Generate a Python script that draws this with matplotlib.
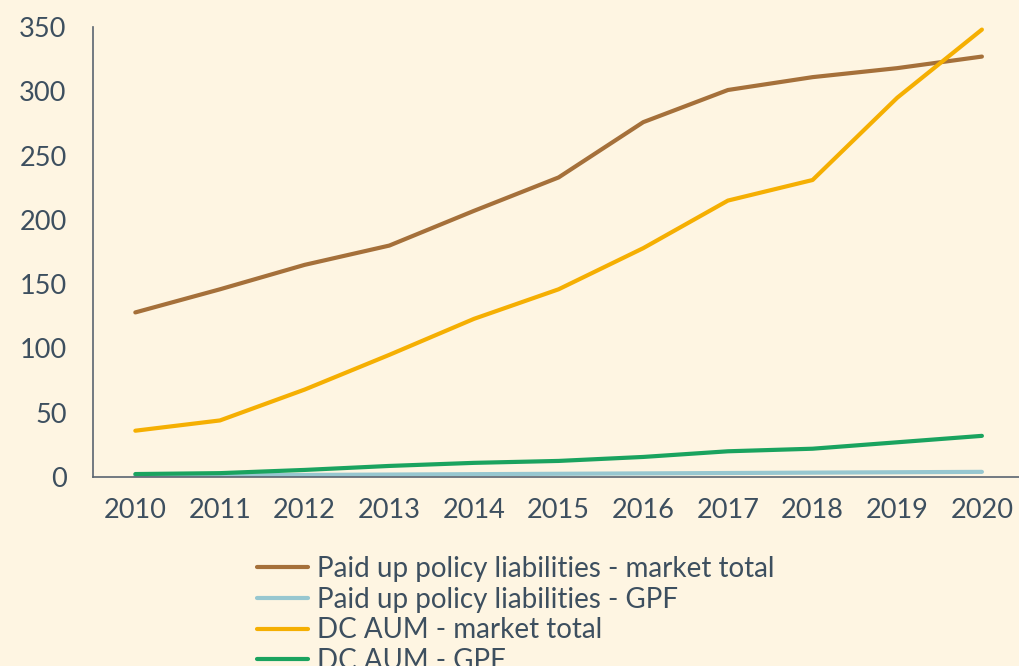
import matplotlib
matplotlib.use("Agg")
import matplotlib.pyplot as plt

years = [2010, 2011, 2012, 2013, 2014, 2015, 2016, 2017, 2018, 2019, 2020]
paid_up_market = [128, 146, 165, 180, 207, 233, 276, 301, 311, 318, 327]
paid_up_gpf = [1.0, 1.3, 1.6, 1.9, 2.2, 2.5, 2.8, 3.1, 3.4, 3.7, 4.0]
dc_market = [36, 44, 68, 95, 123, 146, 178, 215, 231, 295, 348]
dc_gpf = [2.3, 3, 5.5, 8.6, 11, 12.5, 15.6, 20, 22, 27, 32]

labels = ["Paid up policy liabilities - market total",
          "Paid up policy liabilities - GPF",
          "DC AUM - market total",
          "DC AUM - GPF"]
colors = ["#A5703A", "#97C7D0", "#F5AF02", "#1AA35F"]

bg = "#FEF5E2"
text_col = "#3D4F5F"
plt.rcParams['font.family'] = ['Lato', 'DejaVu Sans']

fig = plt.figure(figsize=(10.2, 6.66), dpi=100, facecolor=bg)
ax = fig.add_axes([93 / 1020, 1 - 477 / 666, 927 / 1020, 450 / 666])
ax.set_facecolor(bg)

series = [paid_up_market, paid_up_gpf, dc_market, dc_gpf]
handles = []
for vals, c, lab in zip(series, colors, labels):
    h, = ax.plot(years, vals, color=c, lw=3, label=lab, solid_capstyle='round')
    handles.append(h)

ax.set_xlim(2009.5, 2020.45)
ax.set_ylim(0, 350)
ax.set_yticks(range(0, 351, 50))
ax.set_xticks(years)

for s in ['top', 'right']:
    ax.spines[s].set_visible(False)
for s in ['left', 'bottom']:
    ax.spines[s].set_color("#5A6470")
    ax.spines[s].set_linewidth(1.2)
ax.tick_params(length=0, labelsize=19.5, colors=text_col)
ax.tick_params(axis='x', pad=15)
ax.tick_params(axis='y', pad=19)

leg = fig.legend(handles=handles, loc='upper left',
                 bbox_to_anchor=(243 / 1020, 1 - 542 / 666),
                 frameon=False, fontsize=20, handlelength=1.85,
                 handletextpad=0.3, labelspacing=0.17, borderpad=0)
for t in leg.get_texts():
    t.set_color(text_col)

fig.savefig("out.png", dpi=100, facecolor=bg)
